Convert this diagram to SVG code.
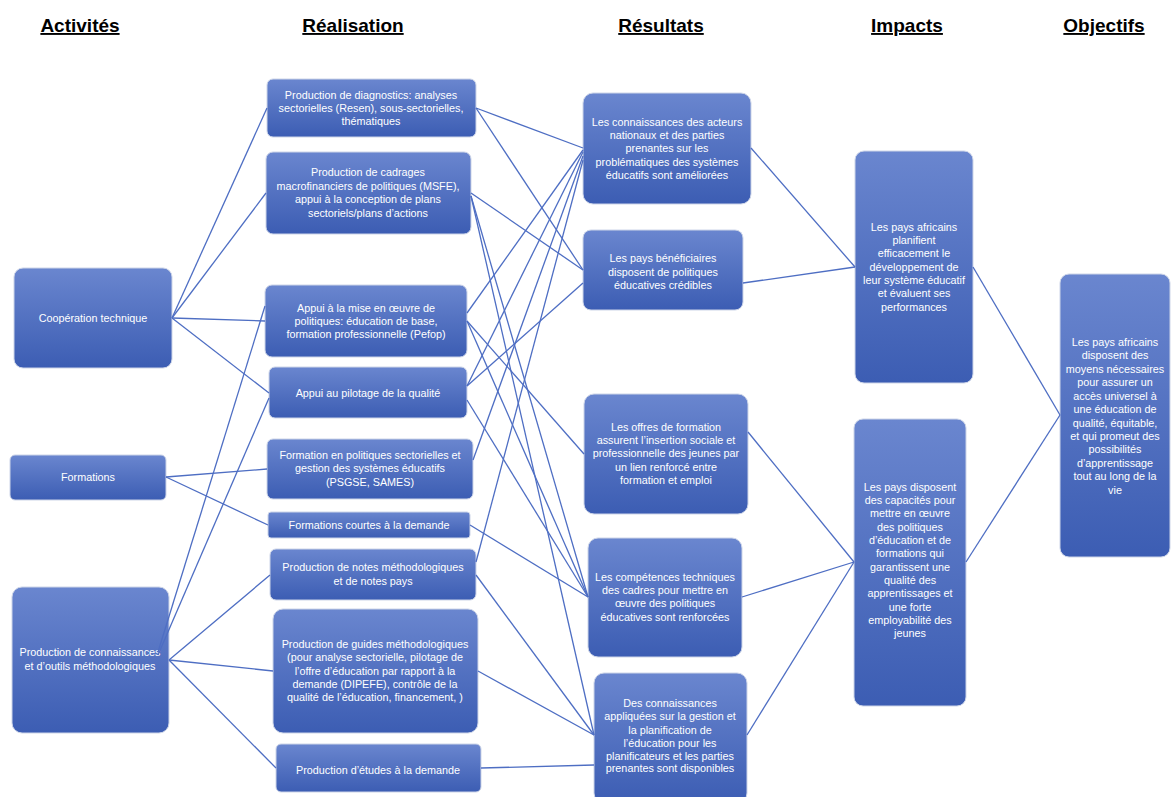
<svg xmlns="http://www.w3.org/2000/svg" width="1171" height="797" viewBox="0 0 1171 797">
<defs>
<linearGradient id="g" x1="0" y1="0" x2="0" y2="1">
<stop offset="0" stop-color="#6a86cf"/>
<stop offset="1" stop-color="#3c5db3"/>
</linearGradient>
<style>
.b{fill:url(#g);stroke:#cdd5e8;stroke-width:1}
.t{font-family:"Liberation Sans",Arial,sans-serif;font-size:10.8px;fill:#ffffff;text-anchor:middle}
.h{font-family:"Liberation Sans",Arial,sans-serif;font-size:19px;font-weight:bold;fill:#000;text-anchor:middle;text-decoration:underline}
.c line{stroke:#4e6ec3;stroke-width:1.3;fill:none}
</style>
</defs>
<rect width="1171" height="797" fill="#fff"/>
<g id="headers">
<text class="h" x="80" y="32">Activités</text>
<text class="h" x="353" y="32">Réalisation</text>
<text class="h" x="661" y="32">Résultats</text>
<text class="h" x="907" y="32">Impacts</text>
<text class="h" x="1104" y="32">Objectifs</text>
</g>
<g id="A1"><rect class="b" x="14" y="268" width="158" height="100" rx="9"/>
<text class="t" x="93" y="322">Coopération technique</text></g>
<g id="A2"><rect class="b" x="10" y="455" width="156" height="45" rx="5"/>
<text class="t" x="88" y="481">Formations</text></g>
<g id="A3"><rect class="b" x="12" y="587" width="157" height="146" rx="10"/>
<text class="t" x="90" y="656">Production de connaissances</text>
<text class="t" x="90" y="670">et d’outils méthodologiques</text></g>

<g id="R1"><rect class="b" x="267" y="79" width="209" height="58" rx="6"/>
<text class="t" x="371" y="99">Production de diagnostics: analyses</text>
<text class="t" x="371" y="112">sectorielles (Resen), sous-sectorielles,</text>
<text class="t" x="371" y="125">thématiques</text></g>
<g id="R2"><rect class="b" x="266" y="152" width="205" height="82" rx="7"/>
<text class="t" x="368" y="176">Production de cadrages</text>
<text class="t" x="368" y="190">macrofinanciers de politiques (MSFE),</text>
<text class="t" x="368" y="203">appui à la conception de plans</text>
<text class="t" x="368" y="217">sectoriels/plans d’actions</text></g>
<g id="R3"><rect class="b" x="265" y="285" width="202" height="72" rx="7"/>
<text class="t" x="366" y="312">Appui à la mise en œuvre de</text>
<text class="t" x="366" y="325">politiques: éducation de base,</text>
<text class="t" x="366" y="338">formation professionnelle (Pefop)</text></g>
<g id="R4"><rect class="b" x="269" y="367" width="198" height="51" rx="6"/>
<text class="t" x="368" y="397">Appui au pilotage de la qualité</text></g>
<g id="R5"><rect class="b" x="267" y="439" width="206" height="60" rx="6"/>
<text class="t" x="370" y="459">Formation en politiques sectorielles et</text>
<text class="t" x="370" y="472">gestion des systèmes éducatifs</text>
<text class="t" x="370" y="486">(PSGSE, SAMES)</text></g>
<g id="R6"><rect class="b" x="268" y="512" width="202" height="26" rx="3"/>
<text class="t" x="369" y="529">Formations courtes à la demande</text></g>
<g id="R7"><rect class="b" x="270" y="549" width="206" height="51" rx="6"/>
<text class="t" x="373" y="571">Production de notes méthodologiques</text>
<text class="t" x="373" y="585">et de notes pays</text></g>
<g id="R8"><rect class="b" x="273" y="609" width="205" height="124" rx="10"/>
<text class="t" x="375" y="648">Production de guides méthodologiques</text>
<text class="t" x="375" y="661">(pour analyse sectorielle, pilotage de</text>
<text class="t" x="375" y="675">l’offre d’éducation par rapport à la</text>
<text class="t" x="375" y="688">demande  (DIPEFE),  contrôle de la</text>
<text class="t" x="375" y="701">qualité de l’éducation,  financement, )</text></g>
<g id="R9"><rect class="b" x="276" y="744" width="205" height="48" rx="5"/>
<text class="t" x="378" y="774">Production d’études à la demande</text></g>

<g id="S1"><rect class="b" x="583" y="93" width="168" height="111" rx="10"/>
<text class="t" x="667" y="126">Les connaissances des acteurs</text>
<text class="t" x="667" y="139">nationaux et des parties</text>
<text class="t" x="667" y="152">prenantes sur les</text>
<text class="t" x="667" y="166">problématiques des systèmes</text>
<text class="t" x="667" y="179">éducatifs sont améliorées</text></g>
<g id="S2"><rect class="b" x="583" y="230" width="160" height="80" rx="8"/>
<text class="t" x="663" y="262">Les pays bénéficiaires</text>
<text class="t" x="663" y="276">disposent de politiques</text>
<text class="t" x="663" y="289">éducatives crédibles</text></g>
<g id="S3"><rect class="b" x="584" y="394" width="164" height="120" rx="10"/>
<text class="t" x="666" y="431">Les offres de formation</text>
<text class="t" x="666" y="444">assurent l’insertion sociale et</text>
<text class="t" x="666" y="457">professionnelle des jeunes par</text>
<text class="t" x="666" y="471">un lien renforcé entre</text>
<text class="t" x="666" y="484">formation et emploi</text></g>
<g id="S4"><rect class="b" x="588" y="538" width="154" height="119" rx="10"/>
<text class="t" x="665" y="581">Les compétences techniques</text>
<text class="t" x="665" y="594">des cadres pour mettre en</text>
<text class="t" x="665" y="607">œuvre des politiques</text>
<text class="t" x="665" y="621">éducatives sont renforcées</text></g>
<g id="S5"><rect class="b" x="594" y="673" width="153" height="130" rx="10"/>
<text class="t" x="670" y="707">Des connaissances</text>
<text class="t" x="670" y="720">appliquées sur la gestion et</text>
<text class="t" x="670" y="734">la planification de</text>
<text class="t" x="670" y="747">l’éducation pour les</text>
<text class="t" x="670" y="760">planificateurs et les parties</text>
<text class="t" x="670" y="772">prenantes sont disponibles</text></g>

<g id="I1"><rect class="b" x="855" y="151" width="118" height="232" rx="9"/>
<text class="t" x="914" y="231">Les pays africains</text>
<text class="t" x="914" y="244">planifient</text>
<text class="t" x="914" y="257">efficacement le</text>
<text class="t" x="914" y="271">développement de</text>
<text class="t" x="914" y="284">leur système éducatif</text>
<text class="t" x="914" y="297">et évaluent ses</text>
<text class="t" x="914" y="311">performances</text></g>
<g id="I2"><rect class="b" x="854" y="419" width="112" height="287" rx="9"/>
<text class="t" x="910" y="491">Les pays disposent</text>
<text class="t" x="910" y="504">des capacités pour</text>
<text class="t" x="910" y="517">mettre en œuvre</text>
<text class="t" x="910" y="531">des politiques</text>
<text class="t" x="910" y="544">d’éducation et de</text>
<text class="t" x="910" y="557">formations qui</text>
<text class="t" x="910" y="571">garantissent une</text>
<text class="t" x="910" y="584">qualité des</text>
<text class="t" x="910" y="597">apprentissages et</text>
<text class="t" x="910" y="611">une forte</text>
<text class="t" x="910" y="624">employabilité des</text>
<text class="t" x="910" y="637">jeunes</text></g>
<g id="O1"><rect class="b" x="1060" y="274" width="110" height="283" rx="9"/>
<text class="t" x="1115" y="346">Les pays africains</text>
<text class="t" x="1115" y="359">disposent des</text>
<text class="t" x="1115" y="373">moyens nécessaires</text>
<text class="t" x="1115" y="386">pour assurer un</text>
<text class="t" x="1115" y="400">accès universel à</text>
<text class="t" x="1115" y="413">une éducation de</text>
<text class="t" x="1115" y="427">qualité, équitable,</text>
<text class="t" x="1115" y="440">et qui promeut des</text>
<text class="t" x="1115" y="453">possibilités</text>
<text class="t" x="1115" y="467">d’apprentissage</text>
<text class="t" x="1115" y="480">tout au long de la</text>
<text class="t" x="1115" y="494">vie</text></g>

<g id="connectors" class="c">
<line x1="172" y1="318" x2="267" y2="108"/>
<line x1="172" y1="318" x2="266" y2="193"/>
<line x1="172" y1="318" x2="265" y2="321"/>
<line x1="172" y1="318" x2="269" y2="393"/>
<line x1="166" y1="477" x2="267" y2="469"/>
<line x1="166" y1="477" x2="268" y2="525"/>
<line x1="158" y1="652" x2="265" y2="306"/>
<line x1="158" y1="655" x2="269" y2="398"/>
<line x1="169" y1="660" x2="270" y2="575"/>
<line x1="169" y1="660" x2="273" y2="671"/>
<line x1="169" y1="660" x2="276" y2="768"/>

<line x1="476" y1="108" x2="583" y2="148"/>
<line x1="476" y1="108" x2="583" y2="270"/>
<line x1="471" y1="193" x2="583" y2="270"/>
<line x1="471" y1="196" x2="588" y2="597"/>
<line x1="471" y1="196" x2="594" y2="735"/>
<line x1="467" y1="313" x2="583" y2="150"/>
<line x1="467" y1="321" x2="584" y2="454"/>
<line x1="467" y1="321" x2="588" y2="597"/>
<line x1="467" y1="386" x2="583" y2="152"/>
<line x1="467" y1="386" x2="583" y2="283"/>
<line x1="467" y1="400" x2="588" y2="597"/>
<line x1="473" y1="460" x2="583" y2="156"/>
<line x1="470" y1="525" x2="588" y2="597"/>
<line x1="476" y1="562" x2="583" y2="160"/>
<line x1="476" y1="575" x2="594" y2="735"/>
<line x1="478" y1="671" x2="594" y2="735"/>
<line x1="481" y1="768" x2="594" y2="765"/>

<line x1="751" y1="148" x2="855" y2="267"/>
<line x1="743" y1="283" x2="855" y2="267"/>
<line x1="748" y1="432" x2="854" y2="562"/>
<line x1="742" y1="597" x2="854" y2="562"/>
<line x1="747" y1="735" x2="854" y2="562"/>
<line x1="973" y1="267" x2="1060" y2="415"/>
<line x1="966" y1="562" x2="1060" y2="415"/>
</g>
</svg>
